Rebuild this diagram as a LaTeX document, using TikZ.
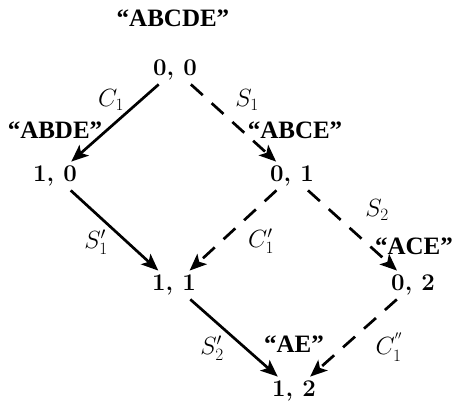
\documentclass[tikz,border=0pt]{standalone}
\usepackage{fontspec}
\newfontfamily\quotefont{Liberation Serif}
\usetikzlibrary{arrows.meta}
\begin{document}
\begin{tikzpicture}[x=1pt,y=1pt,
  num/.style={font=\fontsize{24}{28}\selectfont\bfseries, inner sep=4pt},
  str/.style={font=\fontsize{25}{29}\selectfont\quotefont\bfseries, inner sep=0pt},
  lab/.style={font=\fontsize{23}{26}\selectfont, inner sep=0pt},
  edge/.style={line width=2.7pt, -{Stealth[length=17pt,width=14pt,inset=4pt]}},
  dashedge/.style={edge, dash pattern=on 16pt off 12pt}]
\useasboundingbox (0,0) rectangle (454,401);
% nodes
\node[num] (n00) at (175,331) {0, 0};
\node[num] (n10) at (55,225) {1, 0};
\node[num] (n01) at (292,225) {0, 1};
\node[num] (n11) at (174,116) {1, 1};
\node[num] (n02) at (413,116) {0, 2};
\node[num] (n12) at (294,10) {1, 2};
% strings
\node[str] (sABCDE) at (173,383) {“ABCDE”};
\node[str] (sABDE) at (55,271) {“ABDE”};
\node[str] (sABCE) at (295,271) {“ABCE”};
\node[str] (sACE) at (414,155) {“ACE”};
\node[str] (sAE) at (294,57) {“AE”};
% edges
\draw[edge] (n00) -- (n10);
\draw[dashedge] (n00) -- (n01);
\draw[edge] (n10) -- (n11);
\draw[dashedge] (n01) -- (n11);
\draw[dashedge] (n01) -- (n02);
\draw[edge] (n11) -- (n12);
\draw[dashedge] (n02) -- (n12);
% labels
\node[lab] (lC1) at (111,301) {$C_1$};
\node[lab] (lS1) at (247,301) {$S_1$};
\node[lab] (lS1p) at (96,159) {$S_1'$};
\node[lab] (lC1p) at (261,160) {$C_1'$};
\node[lab] (lS2) at (377,191) {$S_2$};
\node[lab] (lS2p) at (212,53) {$S_2'$};
\node[lab] (lC1pp) at (389,54) {$C_1^{''}$};
\end{tikzpicture}
\end{document}
